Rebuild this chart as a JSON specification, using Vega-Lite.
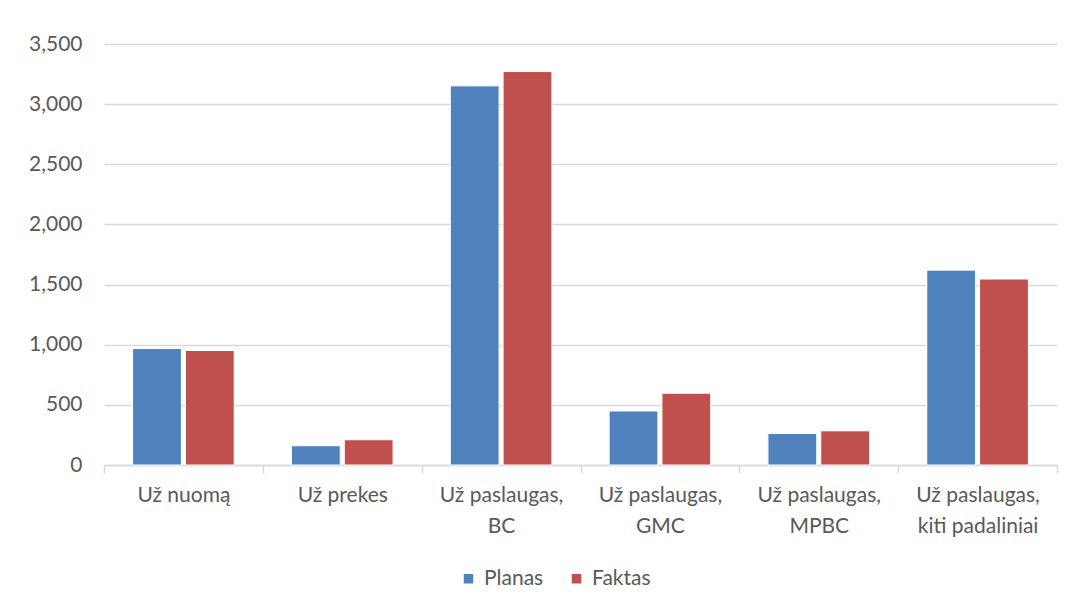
{
  "$schema": "https://vega.github.io/schema/vega-lite/v6.json",
  "width": 953,
  "height": 421,
  "autosize": {"type": "none"},
  "padding": {"left": 104, "top": 44, "right": 17, "bottom": 144},
  "background": "white",
  "data": {
    "values": [
      {"category": "Už nuomą", "series": "Planas", "value": 968},
      {"category": "Už nuomą", "series": "Faktas", "value": 952},
      {"category": "Už prekes", "series": "Planas", "value": 160},
      {"category": "Už prekes", "series": "Faktas", "value": 210},
      {"category": "Už paslaugas, BC", "series": "Planas", "value": 3152},
      {"category": "Už paslaugas, BC", "series": "Faktas", "value": 3271},
      {"category": "Už paslaugas, GMC", "series": "Planas", "value": 449},
      {"category": "Už paslaugas, GMC", "series": "Faktas", "value": 597},
      {"category": "Už paslaugas, MPBC", "series": "Planas", "value": 262},
      {"category": "Už paslaugas, MPBC", "series": "Faktas", "value": 284},
      {"category": "Už paslaugas, kiti padaliniai", "series": "Planas", "value": 1620},
      {"category": "Už paslaugas, kiti padaliniai", "series": "Faktas", "value": 1546}
    ]
  },
  "mark": {"type": "bar", "stroke": "white", "strokeWidth": 1},
  "encoding": {
    "x": {
      "field": "category",
      "type": "nominal",
      "sort": null,
      "title": null,
      "scale": {"paddingInner": 0, "paddingOuter": 0},
      "axis": {
        "labelAngle": 0,
        "tickBand": "extent",
        "ticks": true,
        "tickSize": 8,
        "tickColor": "#D9D9D9",
        "tickWidth": 1.5,
        "domainColor": "#D9D9D9",
        "domainWidth": 1.5,
        "labelPadding": 11,
        "labelLineHeight": 31,
        "labelExpr": "indexof(datum.label, ', ') > 0 ? [slice(datum.label, 0, indexof(datum.label, ', ') + 1), slice(datum.label, indexof(datum.label, ', ') + 2)] : datum.label"
      }
    },
    "xOffset": {
      "field": "series",
      "type": "nominal",
      "sort": ["Planas", "Faktas"],
      "scale": {"paddingInner": 0.076, "paddingOuter": 0.542}
    },
    "y": {
      "field": "value",
      "type": "quantitative",
      "title": null,
      "scale": {"domain": [0, 3500]},
      "axis": {
        "values": [0, 500, 1000, 1500, 2000, 2500, 3000, 3500],
        "format": ",.0f",
        "domain": false,
        "ticks": false,
        "labelPadding": 22,
        "gridColor": "#D9D9D9",
        "gridWidth": 1.5
      }
    },
    "color": {
      "field": "series",
      "type": "nominal",
      "sort": ["Planas", "Faktas"],
      "scale": {"domain": ["Planas", "Faktas"], "range": ["#4F81BD", "#C0504D"]},
      "legend": {
        "title": null,
        "orient": "none",
        "legendX": 354,
        "legendY": 524,
        "direction": "horizontal",
        "symbolType": "square",
        "symbolSize": 90,
        "symbolStrokeWidth": 0,
        "columnPadding": 22,
        "labelOffset": 5
      }
    }
  },
  "config": {
    "font": "Lato",
    "axis": {
      "labelFont": "Lato",
      "labelFontSize": 21,
      "labelColor": "#595959"
    },
    "legend": {
      "labelFont": "Lato",
      "labelFontSize": 21,
      "labelColor": "#595959"
    },
    "view": {"stroke": null}
  }
}
